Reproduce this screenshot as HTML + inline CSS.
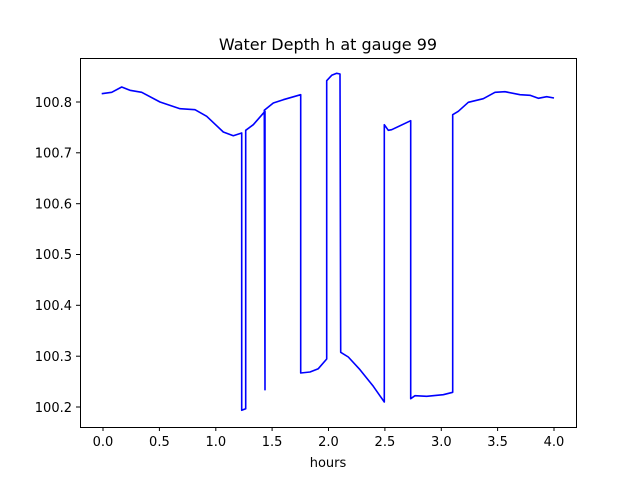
<!DOCTYPE html>
<html><head><style>body{margin:0;background:#fff}svg{display:block}text{font-family:"DejaVu Sans","Liberation Sans",sans-serif;fill:#000}</style></head><body>
<svg width="640" height="480" xmlns="http://www.w3.org/2000/svg">
<rect width="640" height="480" fill="#fff"/>
<polyline fill="none" stroke="#0000ff" stroke-width="1.6" stroke-linejoin="round" points="101.7,93.7 111.7,92.3 121.7,87 130,90.3 141.7,92.3 160,102 180,108.7 195,109.7 206.7,116.3 223.3,132 233.3,135.7 241.7,133 241.7,410.3 245.7,408.7 245.7,130.3 253.3,124.7 265,111.3 265,389.7 264.3,110.3 273.3,103 283.3,99.7 300.7,94.7 300.7,373 310,372 318.3,368.7 326.7,359 326.7,80.7 331.7,75.3 336.7,73.3 340,74 340.7,352.3 348.3,357 360,369.7 373.3,386.3 384.3,402 384.3,124.7 388.3,130.3 391.7,129.7 410.7,120.7 410.7,398.7 415,395.7 426.7,396.3 443.3,394.7 452.7,392.3 452.7,114.7 458.3,111.3 468.3,102.3 483.3,98.7 495,92.3 505,91.7 520,94.7 530,95.3 538.3,98.3 546.7,96.7 554,98"/>
<rect x="80.5" y="58.5" width="496" height="369" fill="none" stroke="#000" stroke-width="1"/>
<g stroke="#000" stroke-width="1">
<line x1="103" y1="427" x2="103" y2="431"/><line x1="159.4" y1="427" x2="159.4" y2="431"/><line x1="215.8" y1="427" x2="215.8" y2="431"/><line x1="272.1" y1="427" x2="272.1" y2="431"/><line x1="328.5" y1="427" x2="328.5" y2="431"/><line x1="384.9" y1="427" x2="384.9" y2="431"/><line x1="441.3" y1="427" x2="441.3" y2="431"/><line x1="497.6" y1="427" x2="497.6" y2="431"/><line x1="554" y1="427" x2="554" y2="431"/>
<line x1="76" y1="407" x2="80" y2="407"/><line x1="76" y1="356.2" x2="80" y2="356.2"/><line x1="76" y1="305.3" x2="80" y2="305.3"/><line x1="76" y1="254.5" x2="80" y2="254.5"/><line x1="76" y1="203.7" x2="80" y2="203.7"/><line x1="76" y1="152.8" x2="80" y2="152.8"/><line x1="76" y1="102" x2="80" y2="102"/>
</g>
<g font-size="13" text-anchor="middle">
<text x="103" y="446">0.0</text><text x="159.4" y="446">0.5</text><text x="215.8" y="446">1.0</text><text x="272.1" y="446">1.5</text><text x="328.5" y="446">2.0</text><text x="384.9" y="446">2.5</text><text x="441.3" y="446">3.0</text><text x="497.6" y="446">3.5</text><text x="554" y="446">4.0</text>
<text x="328" y="467">hours</text>
</g>
<g font-size="13" text-anchor="end">
<text x="72" y="412">100.2</text><text x="72" y="361">100.3</text><text x="72" y="310">100.4</text><text x="72" y="259">100.5</text><text x="72" y="208.5">100.6</text><text x="72" y="157.5">100.7</text><text x="72" y="107">100.8</text>
</g>
<text x="328" y="50" font-size="16" text-anchor="middle">Water Depth h at gauge 99</text>
</svg>
</body></html>
